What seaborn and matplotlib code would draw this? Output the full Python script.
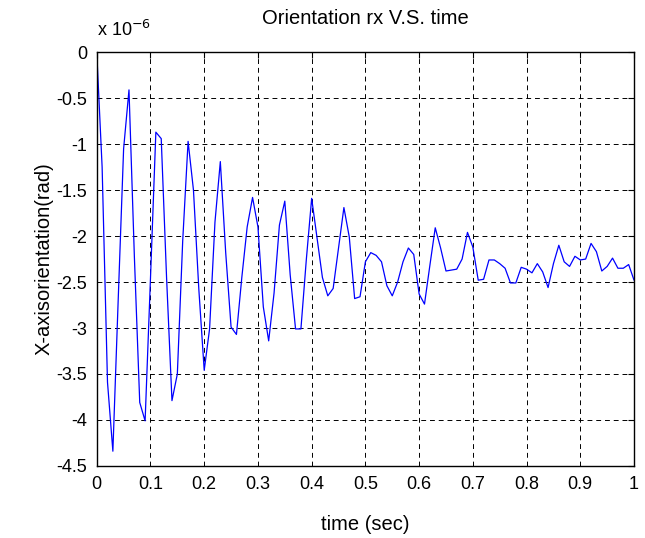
import matplotlib
matplotlib.use("Agg")
import matplotlib.pyplot as plt
import numpy as np
import pandas as pd
import seaborn as sns

# orientation rx in units of 1e-6 rad, sampled every 0.01 s
rx = [0.0, -1.25, -3.59, -4.34, -2.68, -1.05, -0.41, -2.22, -3.81, -4.01,
      -2.46, -0.87, -0.94, -2.46, -3.79, -3.50, -2.05, -0.97, -1.50, -2.58,
      -3.46, -3.01, -1.85, -1.19, -2.18, -2.99, -3.07, -2.45, -1.90, -1.58,
      -1.90, -2.77, -3.14, -2.62, -1.88, -1.62, -2.42, -3.01, -3.01, -2.26,
      -1.59, -2.02, -2.45, -2.65, -2.57, -2.13, -1.69, -2.01, -2.68, -2.66,
      -2.28, -2.18, -2.21, -2.28, -2.54, -2.65, -2.50, -2.28, -2.13, -2.20,
      -2.63, -2.74, -2.32, -1.91, -2.13, -2.38, -2.37, -2.36, -2.25, -1.96,
      -2.12, -2.48, -2.47, -2.26, -2.26, -2.30, -2.35, -2.51, -2.51, -2.34,
      -2.36, -2.40, -2.30, -2.39, -2.56, -2.30, -2.10, -2.28, -2.33, -2.22,
      -2.26, -2.25, -2.08, -2.17, -2.38, -2.33, -2.24, -2.35, -2.35, -2.31,
      -2.48]
time = np.arange(len(rx)) / 100

xticks = [0, 0.1, 0.2, 0.3, 0.4, 0.5, 0.6, 0.7, 0.8, 0.9, 1]
xticklabels = ["0", "0.1", "0.2", "0.3", "0.4", "0.5", "0.6", "0.7", "0.8", "0.9", "1"]
yticks = [0, -0.5, -1, -1.5, -2, -2.5, -3, -3.5, -4, -4.5]
yticklabels = ["0", "-0.5", "-1", "-1.5", "-2", "-2.5", "-3", "-3.5", "-4", "-4.5"]

df = pd.DataFrame({"time": time, "rx": rx})

sns.set_theme(style="white", rc={"text.color": "black", "axes.labelcolor": "black",
                                 "xtick.color": "black", "ytick.color": "black"})
plt.rcParams['font.family'] = ['Liberation Sans', 'DejaVu Sans']
plt.rcParams['xtick.direction'] = 'in'
plt.rcParams['ytick.direction'] = 'in'

fig = plt.figure(figsize=(6.45, 5.38), dpi=100)
ax = fig.add_axes([0.150, 0.134, 0.833, 0.769])

sns.lineplot(data=df, x="time", y="rx", ax=ax, color="#0000ff", linewidth=0.9)

ax.set_xlim(0, 1)
ax.set_ylim(-4.5, 0)
ax.set_xticks(xticks)
ax.set_xticklabels(xticklabels, fontsize=13)
ax.set_yticks(yticks)
ax.set_yticklabels(yticklabels, fontsize=13)
ax.tick_params(axis='both', which='both', direction='in', length=4, width=0.8,
               color='black', labelcolor='black', top=True, right=True, pad=7)
ax.grid(True, color='black', linestyle=(0, (5, 4)), linewidth=0.7)
for s in ax.spines.values():
    s.set_color('black')
    s.set_linewidth(1.0)

ax.set_title("Orientation rx V.S. time", fontsize=14.5, pad=20, color='black')
ax.set_xlabel("time (sec)", fontsize=14.5, labelpad=16, color='black')
ax.set_ylabel("X-axisorientation(rad)", fontsize=14.5, labelpad=2, color='black')
ax.text(0.0, 1.03, r"x 10$^{-6}$", transform=ax.transAxes, fontsize=13,
        ha='left', va='bottom', color='black')

fig.savefig("out.png", dpi=100)
